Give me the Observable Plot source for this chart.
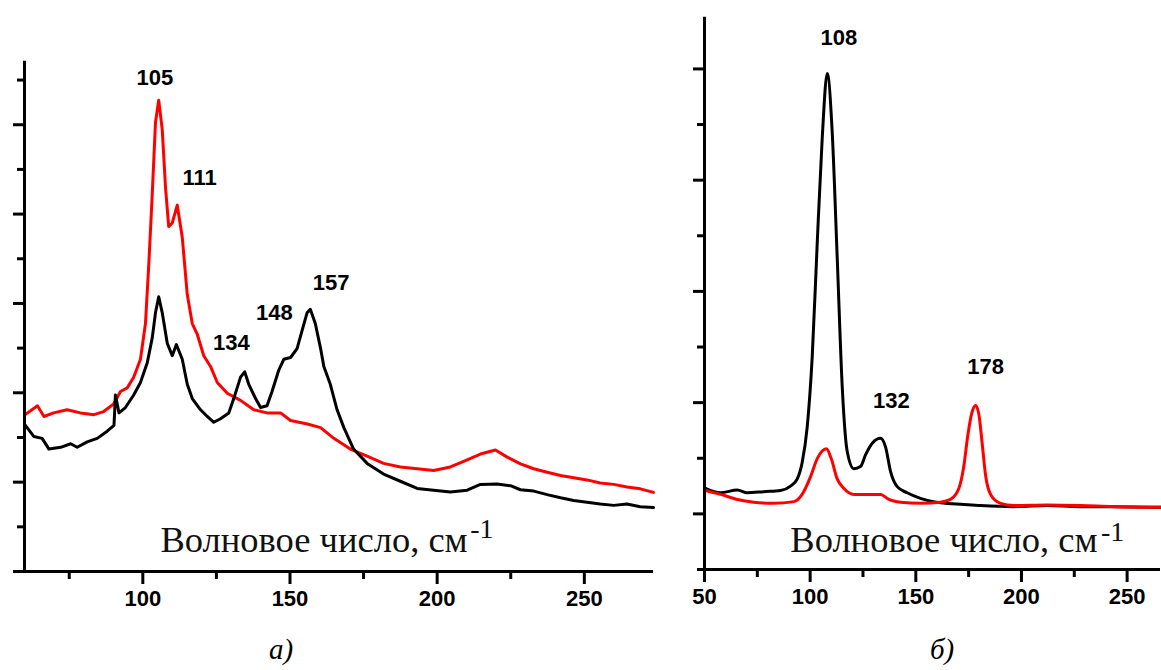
<!DOCTYPE html>
<html>
<head>
<meta charset="utf-8">
<script src="https://cdn.jsdelivr.net/npm/d3@7"></script>
<script src="https://cdn.jsdelivr.net/npm/@observablehq/plot@0.6"></script>
<style>
  html, body { margin: 0; padding: 0; background: #fff; }
  #wrap { position: relative; width: 1161px; height: 670px; overflow: hidden; background: #fff; }
  #left, #right { position: absolute; top: 0; }
  #left { left: 0; }
  #right { left: 680px; }
  .cap { position: absolute; top: 635px; font-family: "Liberation Serif", "Times New Roman", serif;
         font-style: italic; font-size: 29px; line-height: 29px; color: #000; transform: translateX(-50%); }
</style>
</head>
<body>
<div id="wrap">
  <div id="left"></div>
  <div id="right"></div>
  <div class="cap" style="left:281px">а)</div>
  <div class="cap" style="left:942px">б)</div>
</div>
<script>
// ---------- Panel а) data ----------
const leftRedX = [59.8,64.2,66.4,69.7,74.3,78.8,83.4,86.7,90.1,92.4,94.7,96.9,99.2,100.9,102.0,103.2,104.3,105.4,106.6,107.7,108.8,110.0,111.7,113.4,115.1,116.8,118.5,120.7,123.0,125.3,128.7,133.2,137.7,142.2,146.8,150.2,155.9,160.4,164.9,170.5,176.2,181.8,187.5,193.2,198.8,204.5,210.2,214.7,219.8,223.8,228.3,232.8,237.4,241.9,246.4,250.9,255.4,260.0,264.5,269.0,273.5];
const leftRedY = [3.50,3.71,3.47,3.55,3.62,3.55,3.51,3.58,3.75,4.03,4.11,4.35,4.75,5.55,6.84,8.44,10.05,10.55,9.89,8.60,7.72,7.80,8.20,7.48,6.20,5.55,5.31,4.83,4.59,4.23,3.99,3.83,3.62,3.55,3.55,3.38,3.30,3.22,2.98,2.74,2.58,2.42,2.34,2.30,2.26,2.34,2.50,2.63,2.72,2.56,2.41,2.30,2.22,2.15,2.10,2.05,1.98,1.95,1.89,1.85,1.77];

const leftBlackX = [59.8,63.0,65.8,68.1,72.1,75.5,77.7,81.1,84.5,87.9,90.2,90.7,91.9,94.1,96.9,99.2,101.5,103.2,104.3,105.4,106.6,108.3,110.0,111.4,113.4,115.1,116.8,119.6,121.9,124.1,126.4,129.2,130.9,133.2,134.6,136.0,138.3,140.0,142.2,143.9,146.2,147.9,150.2,152.4,154.1,155.8,156.9,158.6,160.4,161.5,163.7,166.0,168.3,171.6,176.2,181.8,187.5,193.2,198.8,204.5,210.2,214.7,220.3,224.9,228.3,232.8,237.4,241.9,246.4,250.9,255.4,260.0,264.5,269.0,273.5];
const leftBlackY = [3.30,3.02,2.98,2.74,2.78,2.86,2.78,2.90,2.98,3.14,3.27,3.95,3.55,3.67,3.95,4.23,4.67,5.23,5.79,6.15,5.79,5.11,4.83,5.08,4.75,4.19,3.87,3.62,3.47,3.34,3.42,3.55,3.87,4.35,4.47,4.19,3.87,3.67,3.71,4.03,4.51,4.75,4.79,4.99,5.39,5.79,5.87,5.55,4.99,4.59,4.19,3.62,3.22,2.74,2.42,2.18,2.02,1.86,1.82,1.78,1.82,1.95,1.96,1.92,1.83,1.80,1.72,1.65,1.59,1.55,1.51,1.48,1.51,1.45,1.43];

const leftPeakText = ["105","111","134","148","157"];
const leftPeakX = [104.1,119.3,130.1,144.7,164.0];
const leftPeakY = [10.90,8.66,4.96,5.64,6.30];

const leftXMajor = [100,150,200,250];
const leftXMinor = [75,125,175,225];
const leftYMajor = [0,2,4,6,8,10];
const leftYMinor = [1,3,5,7,9,11];

// ---------- Panel б) data ----------
const rightBlackX = [50.5,57.6,65.5,70.2,78.1,86.0,90.7,93.9,96.2,98.6,101.0,103.3,105.7,108.1,110.4,112.8,115.2,117.5,120.7,123.8,126.2,129.4,133.3,135.7,138.0,141.2,145.9,152.2,161.7,172.7,180.6,196.4,212.2,228.0,243.7,265.8];
const rightBlackY = [1.46,1.38,1.43,1.38,1.40,1.42,1.50,1.63,1.92,2.56,3.84,5.83,7.75,8.92,7.89,5.61,3.27,2.13,1.81,1.85,2.06,2.27,2.36,2.20,1.77,1.49,1.38,1.28,1.20,1.17,1.15,1.13,1.15,1.13,1.13,1.12];

const rightRedX = [50.5,57.6,65.5,73.3,82.8,92.3,96.2,100.2,103.3,105.7,107.7,110.0,112.8,115.9,120.7,125.4,133.3,137.2,142.8,152.2,161.7,166.4,170.4,172.7,174.6,176.7,178.3,179.8,181.4,183.0,185.4,190.1,196.4,212.2,228.0,243.7,265.8];
const rightRedY = [1.42,1.35,1.26,1.21,1.19,1.22,1.35,1.67,1.99,2.13,2.17,1.99,1.63,1.46,1.35,1.35,1.35,1.26,1.21,1.19,1.21,1.26,1.46,1.85,2.41,2.84,2.95,2.80,2.27,1.70,1.35,1.19,1.15,1.16,1.15,1.13,1.12];

const rightPeakText = ["108","132","178"];
const rightPeakX = [113.6,138.4,183.0];
const rightPeakY = [9.43,2.91,3.52];

const rightXMajor = [50,100,150,200,250];
const rightXMinor = [75,125,175,225];
const rightYMajor = [1,3,5,7,9];
const rightYMinor = [0,2,4,6,8];

// ---------- Axis title (inside plot) ----------
const axisTitle = "Волновое число, см";
const axisTitleSup = "-1";
const leftTitlePos = {x: 106.0, y: 0.43, supX: 211.2, supY: 0.74};
const rightTitlePos = {x: 90.6, y: 0.32, supX: 237.6, supY: 0.52};

const SANS = "'Liberation Sans', Arial, Helvetica, sans-serif";
const SERIF = "'Liberation Serif', 'Times New Roman', serif";

function toPoints(xs, ys) { return xs.map((x, i) => ({x, y: ys[i]})); }

function panel(cfg) {
  const peaks = cfg.peakText.map((t, i) => ({t, x: cfg.peakX[i], y: cfg.peakY[i]}));
  return Plot.plot({
    width: cfg.width, height: cfg.height,
    marginLeft: cfg.mL, marginRight: cfg.mR, marginTop: cfg.mT, marginBottom: cfg.mB,
    x: {domain: cfg.xDomain, label: null},
    y: {domain: cfg.yDomain, label: null},
    style: {background: "transparent", overflow: "visible", fontFamily: SANS, color: "#000"},
    marks: [
      Plot.axisX({ticks: cfg.xMajor, tickSize: 13, tickPadding: 6, strokeWidth: 3,
                  fontSize: 22, fontWeight: "bold", fontFamily: SANS, label: null}),
      Plot.axisX({ticks: cfg.xMinor, tickSize: 8, strokeWidth: 3, fill: "none", label: null}),
      Plot.axisY({ticks: cfg.yMajor, tickSize: 11, strokeWidth: 3, fill: "none", label: null}),
      Plot.axisY({ticks: cfg.yMinor, tickSize: 7, strokeWidth: 3, fill: "none", label: null}),
      ...cfg.series.map(s => Plot.line(toPoints(s.x, s.y), {x: "x", y: "y", stroke: s.color, strokeWidth: 3,
                                                           strokeLinejoin: "round", curve: cfg.curve})),
      Plot.ruleY([cfg.yDomain[0]], {stroke: "#000", strokeWidth: 3}),
      Plot.ruleX([cfg.xDomain[0]], {stroke: "#000", strokeWidth: 3}),
      Plot.text(peaks, {x: "x", y: "y", text: "t", textAnchor: "middle", lineAnchor: "bottom",
                        fontSize: 22, fontWeight: "bold", fontFamily: SANS, fill: "#000"}),
      Plot.text([cfg.title], {x: "x", y: "y", text: () => axisTitle, textAnchor: "start", lineAnchor: "bottom",
                        fontSize: 36.5, fontFamily: SERIF, fill: "#111"}),
      Plot.text([cfg.title], {x: "supX", y: "supY", text: () => axisTitleSup, textAnchor: "start", lineAnchor: "bottom",
                        fontSize: 28, fontFamily: SERIF, fill: "#111"})
    ]
  });
}

document.getElementById("left").append(panel({
  width: 680, height: 620, mL: 24, mR: 27, mT: 60.8, mB: 49,
  xDomain: [59.8, 273.5], yDomain: [0, 11.42], curve: "linear",
  xMajor: leftXMajor, xMinor: leftXMinor, yMajor: leftYMajor, yMinor: leftYMinor,
  series: [
    {x: leftRedX, y: leftRedY, color: "#ff0000"},
    {x: leftBlackX, y: leftBlackY, color: "#000000"}
  ],
  peakText: leftPeakText, peakX: leftPeakX, peakY: leftPeakY,
  title: leftTitlePos
}));

document.getElementById("right").append(panel({
  width: 481, height: 620, mL: 24, mR: 1, mT: 16.7, mB: 51,
  xDomain: [50, 265.8], yDomain: [0, 9.93], curve: "monotone-x",
  xMajor: rightXMajor, xMinor: rightXMinor, yMajor: rightYMajor, yMinor: rightYMinor,
  series: [
    {x: rightBlackX, y: rightBlackY, color: "#000000"},
    {x: rightRedX, y: rightRedY, color: "#ff0000"}
  ],
  peakText: rightPeakText, peakX: rightPeakX, peakY: rightPeakY,
  title: rightTitlePos
}));
</script>
</body>
</html>
